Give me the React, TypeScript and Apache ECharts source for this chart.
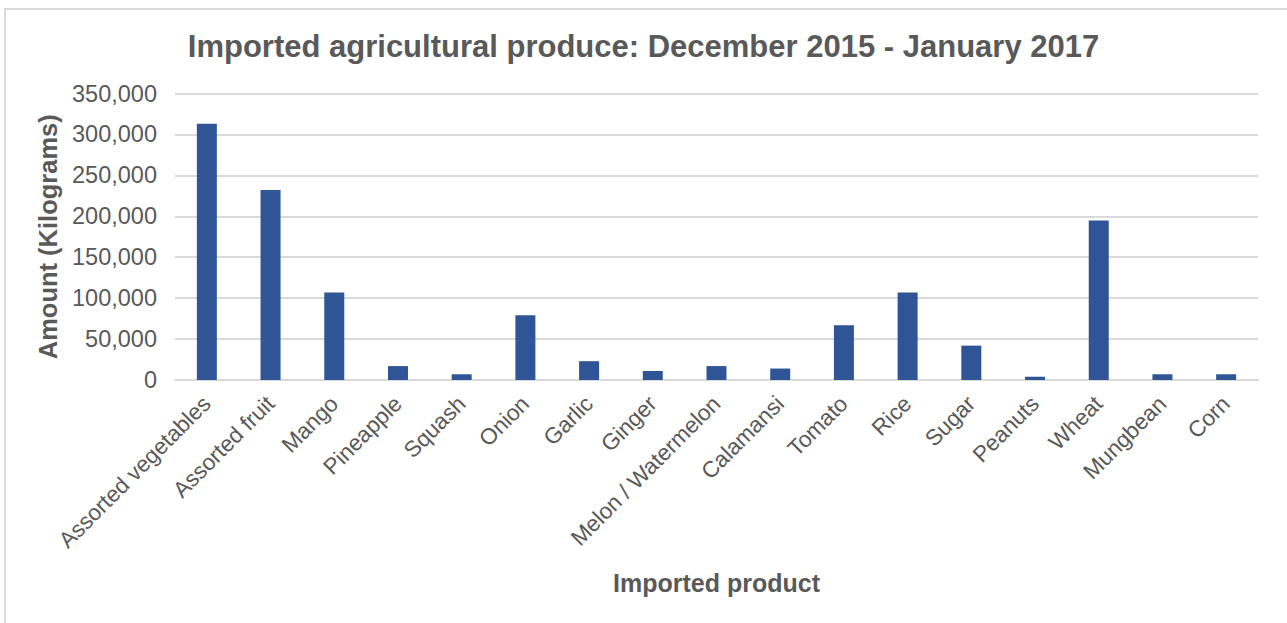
import React, { useEffect, useRef } from "react";
import * as echarts from "echarts";

const categories = [
  "Assorted vegetables",
  "Assorted fruit",
  "Mango",
  "Pineapple",
  "Squash",
  "Onion",
  "Garlic",
  "Ginger",
  "Melon / Watermelon",
  "Calamansi",
  "Tomato",
  "Rice",
  "Sugar",
  "Peanuts",
  "Wheat",
  "Mungbean",
  "Corn",
];

const amounts = [
  313000, 232000, 107000, 17000, 7000, 79000, 23000, 11000, 17000, 14000,
  67000, 107000, 42000, 4000, 195000, 7000, 7000,
];

const titleText = "Imported agricultural produce: December 2015 - January 2017";
const yAxisTitle = "Amount (Kilograms)";
const xAxisTitle = "Imported product";

const FONT = "'Liberation Sans', Arial, sans-serif";
const TEXT = "#595959";
const GRID = "#D9D9D9";

export default function App() {
  const ref = useRef<HTMLDivElement>(null);

  useEffect(() => {
    if (!ref.current) return;
    const chart = echarts.init(ref.current, undefined, { renderer: "svg" });
    chart.setOption({
      animation: false,
      backgroundColor: "#ffffff",
      textStyle: { fontFamily: FONT },
      title: {
        text: titleText,
        left: "center",
        top: 26,
        textStyle: {
          fontFamily: FONT,
          fontSize: 31,
          fontWeight: "bold",
          color: TEXT,
        },
      },
      graphic: [
        {
          type: "rect",
          shape: { x: 5, y: 9, width: 1400, height: 800 },
          style: { fill: "none", stroke: GRID, lineWidth: 2 },
          silent: true,
        },
      ],
      grid: { left: 175, right: 29, top: 93.5, bottom: 243, containLabel: false },
      xAxis: {
        type: "category",
        data: categories,
        name: xAxisTitle,
        nameLocation: "middle",
        nameGap: 190,
        nameTextStyle: {
          fontFamily: FONT,
          fontSize: 25,
          fontWeight: "bold",
          color: TEXT,
          verticalAlign: "top",
        },
        axisLine: { show: true, lineStyle: { color: GRID, width: 2 } },
        axisTick: { show: false },
        axisLabel: {
          interval: 0,
          rotate: 45,
          margin: 20,
          fontFamily: FONT,
          fontSize: 22.5,
          color: TEXT,
        },
      },
      yAxis: {
        type: "value",
        min: 0,
        max: 350000,
        interval: 50000,
        name: yAxisTitle,
        nameLocation: "middle",
        nameGap: 112,
        nameRotate: 90,
        nameTextStyle: {
          fontFamily: FONT,
          fontSize: 25.5,
          fontWeight: "bold",
          color: TEXT,
        },
        axisLine: { show: false },
        axisTick: { show: false },
        splitLine: { show: true, lineStyle: { color: GRID, width: 2 } },
        axisLabel: {
          margin: 18,
          fontFamily: FONT,
          fontSize: 23.5,
          color: TEXT,
          formatter: (v: number) => v.toLocaleString("en-US"),
        },
      },
      series: [
        {
          type: "bar",
          data: amounts,
          barWidth: 20,
          itemStyle: { color: "#2F5597" },
        },
      ],
    });
    return () => chart.dispose();
  }, []);

  return (
    <div
      ref={ref}
      style={{ position: "fixed", left: 0, top: 0, width: 1287, height: 623 }}
    />
  );
}
